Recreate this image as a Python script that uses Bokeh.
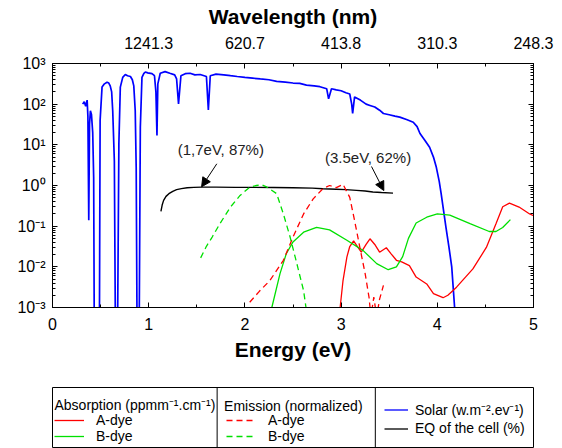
from bokeh.plotting import figure
from bokeh.models import (Range1d, LinearAxis, LogAxis, FixedTicker, Label, Arrow,
                          NormalHead, Legend, LegendItem, Span)
from bokeh.layouts import column
from bokeh.embed import file_html
from bokeh.resources import INLINE

FONT = "Liberation Sans"

# ---------------- data ----------------
solar_E = [0.314, 0.33, 0.345, 0.36, 0.368, 0.377, 0.385, 0.394, 0.405, 0.418, 0.428, 0.435,
           0.45, 0.47, 0.487, 0.495, 0.515, 0.54, 0.567, 0.585, 0.60, 0.615, 0.626, 0.643,
           0.655, 0.675, 0.69, 0.705, 0.73, 0.757, 0.78, 0.81, 0.83, 0.845, 0.86, 0.87,
           0.88, 0.90, 0.913, 0.93, 0.95, 0.965, 0.99, 1.034, 1.06, 1.075, 1.086, 1.095,
           1.12, 1.17, 1.22, 1.27, 1.29, 1.31, 1.335, 1.38, 1.43, 1.48, 1.535, 1.6, 1.62,
           1.64, 1.70, 1.78, 1.85, 1.92, 2.0, 2.08, 2.16, 2.25, 2.33, 2.42, 2.5, 2.57, 2.64,
           2.72, 2.78, 2.85, 2.87, 2.90, 2.95, 3.0, 3.05, 3.09, 3.11, 3.12, 3.14, 3.2, 3.26,
           3.3, 3.35, 3.4, 3.44, 3.5, 3.56, 3.61, 3.68, 3.75, 3.79, 3.82, 3.87, 3.92, 3.96,
           3.99, 4.02, 4.04, 4.07, 4.09, 4.12, 4.15, 4.18, 4.2, 4.22]
solar_val = [100, 115, 89, 126, 50, 0.14, 32, 69, 56, 20, 1.6, 1e-4,
             1e-4, 1e-4, 1e-4, 40, 263, 316, 347, 331, 282, 200, 69, 4.0,
             1e-4, 1e-4, 10.7, 263, 457, 537, 501, 479, 398, 282, 69, 2.8,
             1e-4, 1e-4, 27, 457, 575, 617, 589, 562, 501, 200, 17, 316,
             575, 631, 575, 525, 417, 102, 501, 562, 575, 525, 537, 479, 72,
             501, 550, 525, 501, 479, 457, 437, 417, 398, 363, 347, 331, 324, 295,
             282, 269, 240, 135, 240, 224, 214, 191, 178, 100, 59, 151, 126, 100,
             93, 85, 71, 59, 55, 51, 48, 42, 36, 28, 19, 13, 8.7, 5.0,
             2.8, 1.26, 0.63, 0.2, 0.093, 0.032, 0.01, 0.001, 0.0003, 0.0001]

eq_E = [1.127, 1.14, 1.155, 1.18, 1.21, 1.25, 1.29, 1.34, 1.40, 1.47, 1.55, 1.7, 1.9,
        2.1, 2.3, 2.5, 2.7, 2.81, 2.95, 3.05, 3.16, 3.25, 3.33, 3.42, 3.54]
eq_val = [0.23, 0.33, 0.43, 0.54, 0.63, 0.72, 0.79, 0.84, 0.88, 0.90, 0.91, 0.91, 0.90,
          0.90, 0.89, 0.88, 0.86, 0.83, 0.81, 0.79, 0.76, 0.73, 0.69, 0.67, 0.65]

a_abs_E = [2.975, 2.99, 3.02, 3.06, 3.09, 3.13, 3.17, 3.21, 3.26, 3.30, 3.35, 3.40, 3.47,
           3.52, 3.575, 3.63, 3.71, 3.78, 3.89, 3.96, 4.06, 4.11, 4.2, 4.37, 4.51, 4.61,
           4.68, 4.75, 4.85, 4.96, 5.0]
a_abs_val = [0.0003, 0.001, 0.0046, 0.0174, 0.0316, 0.0437, 0.0316, 0.0229, 0.0355, 0.049,
             0.0355, 0.0229, 0.0295, 0.0209, 0.0145, 0.0132, 0.0107, 0.0056, 0.0038, 0.0022,
             0.00174, 0.002, 0.00316, 0.0089, 0.030, 0.115, 0.30, 0.37, 0.295, 0.20, 0.18]

b_abs_E = [2.26, 2.28, 2.365, 2.43, 2.50, 2.61, 2.745, 2.88, 3.06, 3.23, 3.37, 3.49, 3.575,
           3.64, 3.70, 3.78, 3.89, 4.0, 4.13, 4.34, 4.54, 4.61, 4.68, 4.76]
b_abs_val = [0.0003, 0.001, 0.0068, 0.021, 0.041, 0.071, 0.093, 0.081, 0.045, 0.025, 0.012,
             0.0085, 0.010, 0.0178, 0.050, 0.12, 0.166, 0.20, 0.186, 0.115, 0.074, 0.074,
             0.093, 0.145]

a_em_E = [2.05, 2.15, 2.26, 2.40, 2.50, 2.61, 2.71, 2.81, 2.88, 2.95, 3.02, 3.09, 3.14,
          3.195, 3.25, 3.29, 3.31, 3.34, 3.37, 3.40, 3.44]
a_em_val = [0.00135, 0.0025, 0.0046, 0.0145, 0.054, 0.20, 0.47, 0.83, 1.0, 0.89, 1.07, 0.51,
            0.138, 0.030, 0.0068, 0.0018, 0.0006, 0.0018, 0.0006, 0.0016, 0.0035]

b_em_E = [1.54, 1.60, 1.66, 1.74, 1.85, 1.95, 2.05, 2.12, 2.17, 2.23, 2.33, 2.40, 2.47,
          2.54, 2.61, 2.635, 2.66]
b_em_val = [0.0166, 0.032, 0.054, 0.115, 0.295, 0.57, 0.91, 1.0, 1.05, 0.91, 0.63, 0.20,
            0.054, 0.012, 0.0026, 0.001, 0.0003]

x_major = [0, 1, 2, 3, 4, 5]
x_minor = [0.5, 1.5, 2.5, 3.5, 4.5]
top_ticks = [1, 2, 3, 4, 5]
top_tick_labels = ["1241.3", "620.7", "413.8", "310.3", "248.3"]
y_major = [1e-3, 1e-2, 1e-1, 1, 10, 100, 1000]
y_tick_labels = ["10\u207b\u00b3", "10\u207b\u00b2", "10\u207b\u00b9", "10\u2070",
                 "10\u00b9", "10\u00b2", "10\u00b3"]
y_minor = [m * d for d in [1e-3, 1e-2, 1e-1, 1, 10, 100] for m in range(2, 10)]

# annotation texts and arrows (data coordinates)
ann_text = ["(1,7eV, 87%)", "(3.5eV, 62%)"]
ann_x = [1.75, 3.28]
ann_y = [7.55, 4.97]
arrow_start = [(1.708, 3.42), (3.316, 2.93)]
arrow_end = [(1.55, 0.93), (3.444, 0.75)]

# legend texts
abs_header = "Absorption (ppmm\u207b\u00b9.cm\u207b\u00b9)"
em_header = "Emission (normalized)"
dye_names = ["A-dye", "B-dye"]
other_names = ["Solar (w.m\u207b\u00b2.ev\u207b\u00b9)", "EQ of the cell (%)"]

# ---------------- main figure ----------------
p = figure(width=562, height=380, x_range=Range1d(0, 5), y_range=Range1d(1e-3, 1e3),
           y_axis_type="log", output_backend="svg", toolbar_location=None,
           min_border_left=52, min_border_right=28, min_border_top=63, min_border_bottom=73)
p.xgrid.visible = False
p.ygrid.visible = False
p.outline_line_color = "black"
p.outline_line_alpha = 1
p.background_fill_color = "white"
p.border_fill_color = "white"

bottom_axis = p.below[0]
left_axis = p.left[0]

x_ticker = FixedTicker(ticks=x_major, minor_ticks=x_minor)
y_ticker = FixedTicker(ticks=y_major, minor_ticks=y_minor)
top_ticker = FixedTicker(ticks=top_ticks, minor_ticks=x_minor)

bottom_axis.ticker = x_ticker
left_axis.ticker = y_ticker
left_axis.major_label_overrides = {float(t): s for t, s in zip(y_major, y_tick_labels)}

top_axis = LinearAxis(ticker=top_ticker,
                      major_label_overrides={float(t): s for t, s in zip(top_ticks, top_tick_labels)},
                      axis_label="Wavelength (nm)")
right_axis = LogAxis(ticker=y_ticker, major_label_standoff=0,
                     major_label_overrides={float(t): "" for t in y_major})
p.add_layout(top_axis, "above")
p.add_layout(right_axis, "right")

for ax in (bottom_axis, left_axis, top_axis, right_axis):
    ax.major_tick_in = 5
    ax.major_tick_out = 0
    ax.minor_tick_in = 3
    ax.minor_tick_out = 0
    ax.axis_line_color = "black"
    ax.major_tick_line_color = "black"
    ax.minor_tick_line_color = "black"
    ax.major_label_text_font = FONT
    ax.major_label_text_color = "black"
    ax.major_label_text_font_size = "16px"
    ax.axis_label_text_font = FONT
    ax.axis_label_text_font_style = "bold"
    ax.axis_label_text_color = "black"
    ax.axis_label_text_font_size = "21px"

right_axis.major_label_text_font_size = "2px"

bottom_axis.axis_label = "Energy (eV)"
bottom_axis.major_label_standoff = 10
bottom_axis.axis_label_standoff = 5
left_axis.major_label_standoff = 7
top_axis.major_label_standoff = 15
top_axis.axis_label_standoff = 6

r_solar = p.line(solar_E, solar_val, line_color="#0000ff", line_width=1.7)
r_eq = p.line(eq_E, eq_val, line_color="black", line_width=1.4)
r_aabs = p.line(a_abs_E, a_abs_val, line_color="#ff0000", line_width=1.3)
r_babs = p.line(b_abs_E, b_abs_val, line_color="#00e000", line_width=1.3)
r_aem = p.line(a_em_E, a_em_val, line_color="#ff0000", line_width=1.3, line_dash="6 4")
r_bem = p.line(b_em_E, b_em_val, line_color="#00e000", line_width=1.3, line_dash="6 4")

for t, x, y in zip(ann_text, ann_x, ann_y):
    p.add_layout(Label(x=x, y=y, text=t, text_align="center", text_baseline="middle",
                       text_font=FONT, text_font_size="15px", text_color="#222222"))
for (xs, ys), (xe, ye) in zip(arrow_start, arrow_end):
    p.add_layout(Arrow(end=NormalHead(size=9, fill_color="black", line_color="black"),
                       x_start=xs, y_start=ys, x_end=xe, y_end=ye,
                       line_color="black", line_width=1))

# ---------------- legend panel ----------------
lf = figure(width=562, height=68, x_range=Range1d(0, 485), y_range=Range1d(0, 61),
            output_backend="svg", toolbar_location=None, min_border_left=48,
            min_border_right=29, min_border_top=7, min_border_bottom=0)
lf.axis.visible = False
lf.grid.visible = False
lf.outline_line_color = "black"
lf.outline_line_alpha = 1

# legend key glyphs (kept outside the visible range of this panel)
d_aabs = lf.line([-10, -9], [-10, -10], line_color="#ff0000", line_width=1.3)
d_babs = lf.line([-10, -9], [-10, -10], line_color="#00e000", line_width=1.3)
d_aem = lf.line([-10, -9], [-10, -10], line_color="#ff0000", line_width=1.3, line_dash="6 4")
d_bem = lf.line([-10, -9], [-10, -10], line_color="#00e000", line_width=1.3, line_dash="6 4")
d_sol = lf.line([-10, -9], [-10, -10], line_color="#0000ff", line_width=1.3)
d_eq = lf.line([-10, -9], [-10, -10], line_color="black", line_width=1.3)


def make_legend(items, loc, gw=30, lh=14, ls=10):
    return Legend(items=items, location=loc, border_line_color=None, background_fill_alpha=0,
                  padding=0, margin=0, spacing=0, glyph_width=gw, glyph_height=lh,
                  label_height=lh, label_standoff=ls, label_text_font=FONT,
                  label_text_font_size="14px", label_text_color="black")


leg1 = make_legend([LegendItem(label=dye_names[0], renderers=[d_aabs]),
                    LegendItem(label=dye_names[1], renderers=[d_babs])], (2, 4), ls=12)
leg2 = make_legend([LegendItem(label=dye_names[0], renderers=[d_aem]),
                    LegendItem(label=dye_names[1], renderers=[d_bem])], (174, 4), ls=12)
leg3 = make_legend([LegendItem(label=other_names[0], renderers=[d_sol]),
                    LegendItem(label=other_names[1], renderers=[d_eq])], (332, 10.5),
                   gw=24, lh=19, ls=7)
for lg in (leg1, leg2, leg3):
    lf.add_layout(lg)

for hx, hy, ht in ((2, 43.6, abs_header), (173, 43, em_header)):
    lf.add_layout(Label(x=hx, y=hy, text=ht, text_align="left", text_baseline="middle",
                        text_font=FONT, text_font_size="14px", text_color="black"))

for loc in (166, 325.5):
    lf.add_layout(Span(location=loc, dimension="height", line_color="black", line_width=1))

layout = column(p, lf)
open("out.html", "w").write(file_html(layout, INLINE))
